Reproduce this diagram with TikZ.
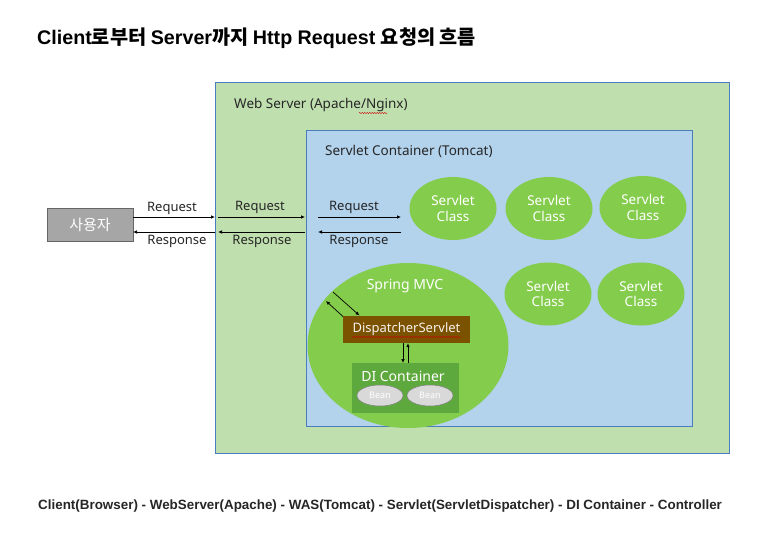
\documentclass[tikz,border=0pt]{standalone}
\usepackage{fontspec}
\setmainfont{Noto Sans}
\newfontfamily\kr{Noto Sans CJK KR}
\newfontfamily\hv{Liberation Sans}
\usetikzlibrary{arrows.meta,shapes.geometric,decorations.pathmorphing}
\definecolor{wsgreen}{HTML}{C0DFAE}
\definecolor{scblue}{HTML}{B3D2EC}
\definecolor{frameblue}{HTML}{4A7EBB}
\definecolor{sgreen}{HTML}{84CC4C}
\definecolor{digreen}{HTML}{5EA93D}
\definecolor{brown}{HTML}{7B5200}
\definecolor{usergray}{HTML}{A6A6A6}
\definecolor{beangray}{HTML}{D9D9D9}
\definecolor{txt}{HTML}{262626}
\tikzset{
  frame/.style={draw=frameblue, line width=0.8pt},
  servlet/.style={ellipse, fill=sgreen, minimum width=87pt, minimum height=63pt, inner sep=0pt, text=white, align=center, font=\fontsize{13.5}{15.5}\selectfont},
  lbl/.style={text=txt, font=\fontsize{13.5}{15}\selectfont, inner sep=0pt},
  arrlbl/.style={text=txt, font=\fontsize{13}{15}\selectfont, inner sep=0pt},
  flow/.style={draw=black, line width=0.7pt, -{Latex[length=4pt,width=3.5pt]}},
  bean/.style={ellipse, fill=beangray, draw=gray, line width=0.5pt, minimum width=46pt, minimum height=21pt, inner sep=0pt, text=white, font=\fontsize{9}{10}\selectfont},
  squiggle/.style={draw=red!80!black, line width=0.4pt, decorate, decoration={snake, amplitude=0.6pt, segment length=2.5pt}}
}
\begin{document}
\begin{tikzpicture}[x=1pt,y=-1pt]
\useasboundingbox[fill=white] (0,0) rectangle (779,547);
% title
\node[anchor=west, inner sep=0pt, text=black] (title) at (37,38) {\bfseries\fontsize{19.7}{21}\selectfont\hv Client\kr 로부터 \hv Server\kr 까지 \hv Http Request \kr 요청의 흐름};
% web server
\node[frame, fill=wsgreen, minimum width=514pt, minimum height=371pt, anchor=north west, inner sep=0pt] (ws) at (215,82) {};
\node[lbl, anchor=west] (wslbl) at (234,105) {Web Server (Apache/Nginx)};
\coordinate (sq1a) at (359,113); \coordinate (sq1b) at (387,113);
\draw[squiggle] (sq1a) -- (sq1b);
% servlet container
\node[frame, fill=scblue, minimum width=386pt, minimum height=296pt, anchor=north west, inner sep=0pt] (sc) at (306,130) {};
\node[lbl, anchor=west] (sclbl) at (325,151) {Servlet Container (Tomcat)};
% user
\node[draw=gray!80!black, fill=usergray, line width=0.8pt, minimum width=86pt, minimum height=33pt, inner sep=0pt, text=white, font=\kr\fontsize{15}{16}\selectfont] (user) at (90,224.5) {사용자};
% servlet classes
\node[servlet] (s1) at (453,208.5) {Servlet\\Class};
\node[servlet] (s2) at (549,208.5) {Servlet\\Class};
\node[servlet] (s3) at (643,207.5) {Servlet\\Class};
\node[servlet] (s4) at (548,294) {Servlet\\Class};
\node[servlet] (s5) at (641,294) {Servlet\\Class};
% spring mvc
\node[ellipse, fill=sgreen, minimum width=201pt, minimum height=165pt, inner sep=0pt] (mvc) at (408,345.5) {};
\node[text=white, font=\fontsize{14}{15}\selectfont, inner sep=0pt] (mvclbl) at (405,286) {Spring MVC};
\node[fill=brown, minimum width=127pt, minimum height=27pt, inner sep=0pt, text=white!92!brown, font=\fontsize{13}{14}\selectfont] (ds) at (406.5,329.5) {DispatcherServlet};
\coordinate (sq2a) at (352,337); \coordinate (sq2b) at (461,337);
\draw[squiggle] (sq2a) -- (sq2b);
\node[fill=digreen, minimum width=107pt, minimum height=50pt, inner sep=0pt, anchor=north west] (di) at (352,363) {};
\node[text=white, font=\fontsize{14}{15}\selectfont, inner sep=0pt] (dilbl) at (403,376) {DI Container};
\node[bean] (b1) at (380,395.5) {Bean};
\node[bean] (b2) at (430,395.5) {Bean};
% coordinates for arrows
\coordinate (uR1) at (133,217); \coordinate (uR2) at (133,232);
\coordinate (wL1) at (215,217); \coordinate (wL2) at (215,232);
\coordinate (wi1) at (218,217); \coordinate (wi2) at (218,232);
\coordinate (sL1) at (305,217); \coordinate (sL2) at (305,232);
\coordinate (si1) at (318,217); \coordinate (si2) at (318,232);
\coordinate (sx1) at (401,217); \coordinate (sx2) at (401,232);
\draw[flow] (uR1) -- (wL1);
\draw[flow] (wL2) -- (uR2);
\draw[flow] (wi1) -- (sL1);
\draw[flow] (sL2) -- (wi2);
\draw[flow] (si1) -- (sx1);
\draw[flow] (sx2) -- (si2);
\node[arrlbl] (r1) at (172,208) {Request};
\node[arrlbl] (p1) at (177,241) {Response};
\node[arrlbl] (r2) at (260,207) {Request};
\node[arrlbl] (p2) at (262,241) {Response};
\node[arrlbl] (r3) at (354,207) {Request};
\node[arrlbl] (p3) at (359,241) {Response};
% dispatcher arrows
\coordinate (dg1) at (333,292); \coordinate (dg2) at (326,301);
\coordinate (dg3) at (359.5,315.5); \coordinate (dg4) at (343,316.5);
\draw[flow] (dg1) -- (dg3);
\draw[flow] (dg4) -- (dg2);
\draw[flow] (ds.south -| 403,0) -- (di.north -| 403,0);
\draw[flow] (di.north -| 408,0) -- (ds.south -| 408,0);
% bottom text
\node[anchor=west, inner sep=0pt, text=txt] (foot) at (38,506.5) {\hv\bfseries\fontsize{13.4}{15}\selectfont Client(Browser) - WebServer(Apache) - WAS(Tomcat) - Servlet(ServletDispatcher) - DI Container - Controller};
\end{tikzpicture}
\end{document}
